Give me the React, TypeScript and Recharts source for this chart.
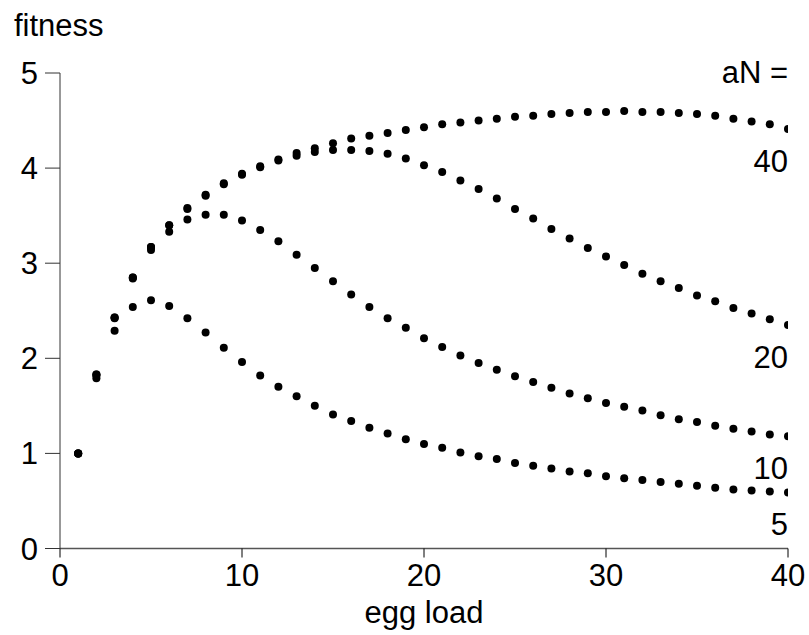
import React from 'react';
import { ScatterChart, Scatter, XAxis, YAxis } from 'recharts';

const eggLoad = [1, 2, 3, 4, 5, 6, 7, 8, 9, 10, 11, 12, 13, 14, 15, 16, 17, 18, 19, 20, 21, 22, 23, 24, 25, 26, 27, 28, 29, 30, 31, 32, 33, 34, 35, 36, 37, 38, 39, 40];

const fitnessAN40 = [1.0, 1.83, 2.43, 2.85, 3.17, 3.4, 3.58, 3.72, 3.84, 3.94, 4.02, 4.09, 4.16, 4.21, 4.26, 4.31, 4.34, 4.37, 4.4, 4.43, 4.46, 4.48, 4.5, 4.52, 4.54, 4.55, 4.57, 4.58, 4.59, 4.59, 4.6, 4.59, 4.59, 4.58, 4.57, 4.55, 4.52, 4.49, 4.46, 4.41];
const fitnessAN20 = [1.0, 1.83, 2.43, 2.85, 3.17, 3.4, 3.57, 3.71, 3.83, 3.93, 4.01, 4.08, 4.13, 4.17, 4.19, 4.19, 4.18, 4.15, 4.1, 4.03, 3.96, 3.87, 3.78, 3.68, 3.57, 3.47, 3.36, 3.26, 3.16, 3.07, 2.98, 2.89, 2.81, 2.74, 2.66, 2.6, 2.53, 2.47, 2.41, 2.35];
const fitnessAN10 = [1.0, 1.82, 2.42, 2.84, 3.14, 3.33, 3.46, 3.51, 3.51, 3.45, 3.35, 3.23, 3.09, 2.95, 2.81, 2.67, 2.54, 2.42, 2.32, 2.21, 2.12, 2.03, 1.95, 1.88, 1.81, 1.75, 1.69, 1.63, 1.58, 1.53, 1.49, 1.45, 1.4, 1.36, 1.33, 1.29, 1.26, 1.23, 1.2, 1.18];
const fitnessAN5 = [1.0, 1.79, 2.29, 2.54, 2.61, 2.55, 2.42, 2.27, 2.11, 1.96, 1.82, 1.7, 1.6, 1.5, 1.41, 1.34, 1.27, 1.21, 1.15, 1.1, 1.06, 1.01, 0.97, 0.94, 0.9, 0.87, 0.84, 0.81, 0.79, 0.76, 0.74, 0.72, 0.7, 0.68, 0.66, 0.64, 0.62, 0.61, 0.6, 0.59];

const seriesLabels = ['40', '20', '10', '5'];
const seriesValues = [fitnessAN40, fitnessAN20, fitnessAN10, fitnessAN5];
const xTicks = [0, 10, 20, 30, 40];
const yTicks = [0, 1, 2, 3, 4, 5];

const FONT = 'Arial, "Liberation Sans", Helvetica, sans-serif';
const FS = 31;

const makeShape = (label: string) => (props: any) => {
  const { cx, cy, payload } = props;
  const isLast = payload && payload.x === eggLoad[eggLoad.length - 1];
  return (
    <g>
      <circle cx={cx} cy={cy} r={4} fill="#000" />
      {isLast ? (
        <text x={cx} y={cy + 42.5} textAnchor="end" fontSize={FS} fontFamily={FONT} fill="#000">
          {label}
        </text>
      ) : null}
    </g>
  );
};

export default function App() {
  return (
    <div style={{ position: 'absolute', left: 0, top: 0, width: 809, height: 635, background: '#fff' }}>
      <ScatterChart width={809} height={635} margin={{ top: 73, right: 21, left: 0, bottom: 0 }}>
        <XAxis
          type="number"
          dataKey="x"
          domain={[0, 40]}
          ticks={xTicks}
          interval={0}
          height={86.5}
          tickSize={9}
          tickMargin={6}
          stroke="#444"
          tickLine={{ stroke: '#000' }}
          axisLine={{ stroke: '#555', strokeWidth: 1.3 }}
          tick={{ fontSize: FS, fill: '#000', fontFamily: FONT }}
          allowDataOverflow
        />
        <YAxis
          type="number"
          dataKey="y"
          domain={[0, 5]}
          ticks={yTicks}
          interval={0}
          width={60}
          tickSize={15}
          tickMargin={7}
          stroke="#333"
          tickLine={{ stroke: '#333' }}
          axisLine={{ stroke: '#333' }}
          tick={{ fontSize: FS, fill: '#000', fontFamily: FONT }}
          allowDataOverflow
        />
        {seriesValues.map((vals, si) => (
          <Scatter
            key={seriesLabels[si]}
            name={seriesLabels[si]}
            data={eggLoad.map((x, i) => ({ x, y: vals[i] }))}
            shape={makeShape(seriesLabels[si])}
            isAnimationActive={false}
          />
        ))}
      </ScatterChart>
      <svg
        width={809}
        height={635}
        style={{ position: 'absolute', left: 0, top: 0, pointerEvents: 'none' }}
      >
        <text x={14} y={36} fontSize={FS} fontFamily={FONT} fill="#000">fitness</text>
        <text x={788} y={83} textAnchor="end" fontSize={FS} fontFamily={FONT} fill="#000">aN =</text>
        <text x={424} y={623} textAnchor="middle" fontSize={FS} fontFamily={FONT} fill="#000">egg load</text>
      </svg>
    </div>
  );
}
